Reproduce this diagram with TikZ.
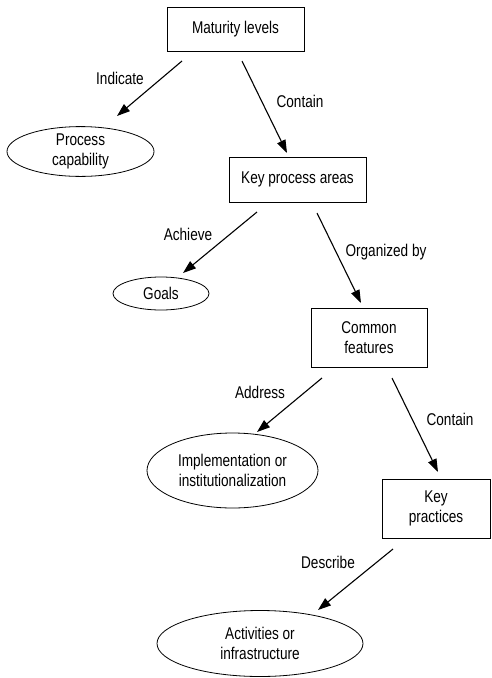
\documentclass[tikz,border=0pt]{standalone}
\usepackage{fontspec}
\setmainfont{Liberation Sans}[FakeStretch=0.8]
\usetikzlibrary{arrows.meta,shapes.geometric}
\begin{document}
\begin{tikzpicture}[x=1pt,y=-1pt,
  every node/.style={font=\fontsize{17}{20}\selectfont, align=center, inner sep=0pt},
  box/.style={draw, line width=0.8pt, rectangle},
  oval/.style={draw, line width=0.8pt, ellipse},
  rel/.style={line width=1.1pt, -{Triangle[length=13pt,width=9pt]}},
  lbl/.style={}]
\useasboundingbox (0,0) rectangle (492,678);
\fill[white] (0,0) rectangle (492,678);

% concepts
\node[box, minimum width=137pt, minimum height=44pt] (ml) at (235.5,29.5) {Maturity levels};
\node[oval, minimum width=147pt, minimum height=40pt] (pc) at (80.5,151.5) {Process\\capability};
\node[box, minimum width=137pt, minimum height=45pt] (kpa) at (297.5,179.5) {Key process areas};
\node[oval, minimum width=96pt, minimum height=33pt] (goals) at (161,293.5) {Goals};
\node[box, minimum width=116pt, minimum height=59pt] (cf) at (369,337.5) {Common\\features};
\node[oval, minimum width=171pt, minimum height=75pt] (impl) at (232.5,470.5) {Implementation or\\institutionalization};
\node[box, minimum width=108pt, minimum height=59pt] (kp) at (436,508.5) {Key\\practices};
\node[oval, minimum width=206pt, minimum height=66pt] (act) at (260,643.5) {Activities or\\infrastructure};

% connector end points
\coordinate (ml-pc-s) at (182,61);   \coordinate (ml-pc-e) at (117,116);
\coordinate (ml-kpa-s) at (242,61);  \coordinate (ml-kpa-e) at (287,153);
\coordinate (kpa-g-s) at (257,212);  \coordinate (kpa-g-e) at (183,273);
\coordinate (kpa-cf-s) at (317,213); \coordinate (kpa-cf-e) at (361,303);
\coordinate (cf-im-s) at (322,378);  \coordinate (cf-im-e) at (257,432);
\coordinate (cf-kp-s) at (392,378);  \coordinate (cf-kp-e) at (438,472);
\coordinate (kp-act-s) at (393,549); \coordinate (kp-act-e) at (318,610);

% relations
\draw[rel] (ml-pc-s) -- (ml-pc-e);
\draw[rel] (ml-kpa-s) -- (ml-kpa-e);
\draw[rel] (kpa-g-s) -- (kpa-g-e);
\draw[rel] (kpa-cf-s) -- (kpa-cf-e);
\draw[rel] (cf-im-s) -- (cf-im-e);
\draw[rel] (cf-kp-s) -- (cf-kp-e);
\draw[rel] (kp-act-s) -- (kp-act-e);

% relation labels
\node[lbl] (l1) at (120,78) {Indicate};
\node[lbl] (l2) at (300,101) {Contain};
\node[lbl] (l3) at (188,234) {Achieve};
\node[lbl] (l4) at (386,252) {Organized by};
\node[lbl] (l5) at (260,392) {Address};
\node[lbl] (l6) at (450,419) {Contain};
\node[lbl] (l7) at (328,562) {Describe};
\end{tikzpicture}
\end{document}
